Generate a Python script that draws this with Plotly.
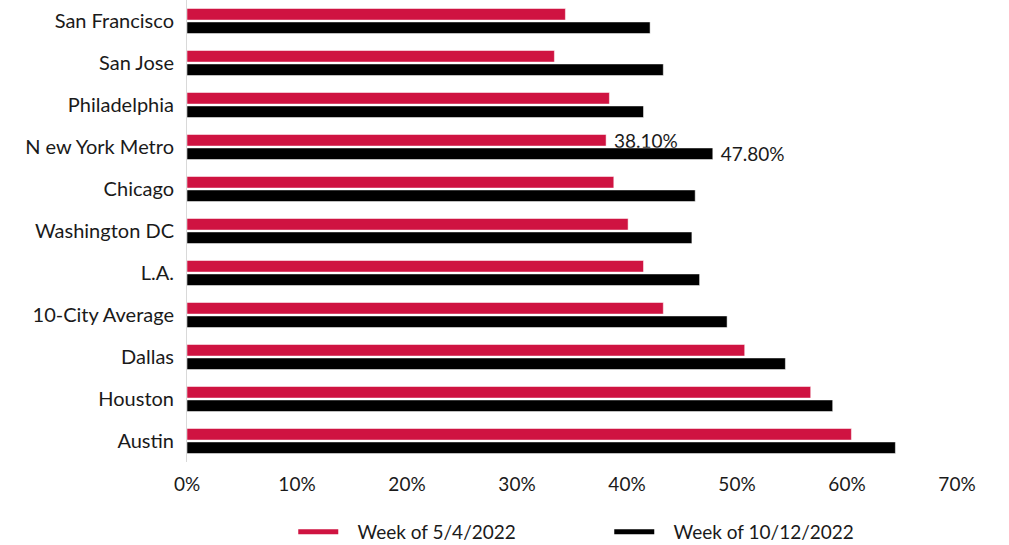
import plotly.graph_objects as go

cities = ["San Francisco", "San Jose", "Philadelphia", "N ew York Metro", "Chicago",
          "Washington DC", "L.A.", "10-City Average", "Dallas", "Houston", "Austin"]
week_may = [34.4, 33.4, 38.4, 38.1, 38.8, 40.1, 41.5, 43.3, 50.7, 56.7, 60.4]
week_oct = [42.1, 43.3, 41.5, 47.8, 46.2, 45.9, 46.6, 49.1, 54.4, 58.7, 64.4]
labelled = ["N ew York Metro"]
name_may = "Week of 5/4/2022"
name_oct = "Week of 10/12/2022"
red = "#CF1341"
black = "#000000"
font = "Lato, 'Open Sans', sans-serif"
txt = "#1a1a1a"


def labels(values):
    return ["\u00a0" + f"{v:.2f}%" if c in labelled else "" for c, v in zip(cities, values)]


fig = go.Figure()
for vals, color, name in [(week_may, red, name_may), (week_oct, black, name_oct)]:
    fig.add_trace(go.Bar(y=cities, x=vals, orientation="h", marker_color=color,
                         marker_line=dict(color="white", width=0.5),
                         text=labels(vals), textposition="outside", cliponaxis=False,
                         constraintext="none",
                         textfont=dict(size=19, color=txt, family=font),
                         showlegend=False, name=name))
# legend entries drawn as short lines, as in the reference
for color, name in [(red, name_may), (black, name_oct)]:
    fig.add_trace(go.Scatter(x=[None], y=[None], mode="lines",
                             name="\u00a0\u00a0\u00a0" + name,
                             line=dict(color=color, width=5)))

fig.update_layout(
    width=1009, height=545,
    margin=dict(l=187, r=52, t=0, b=83, autoexpand=False),
    paper_bgcolor="white", plot_bgcolor="white",
    barmode="group", bargap=0.36, bargroupgap=0.14,
    font=dict(family=font, size=19, color=txt),
    xaxis=dict(range=[0, 70], tickvals=[0, 10, 20, 30, 40, 50, 60, 70],
               ticktext=["0%", "10%", "20%", "30%", "40%", "50%", "60%", "70%"],
               showgrid=False, zeroline=False, showline=False,
               ticks="outside", ticklen=5, tickcolor="rgba(0,0,0,0)",
               tickfont=dict(size=19, family=font, color=txt)),
    yaxis=dict(categoryorder="array", categoryarray=cities,
               range=[10.5, -0.5], showgrid=False, zeroline=False,
               showline=True, linecolor="#d9d9d9", linewidth=1,
               ticks="outside", ticklen=8, tickcolor="rgba(0,0,0,0)",
               tickfont=dict(size=20, family=font, color=txt)),
    legend=dict(orientation="h", x=0.138, xanchor="left", y=-0.11, yanchor="top",
                font=dict(size=19, family=font, color=txt),
                entrywidth=261, itemwidth=40),
)
fig.write_html("out.html")
